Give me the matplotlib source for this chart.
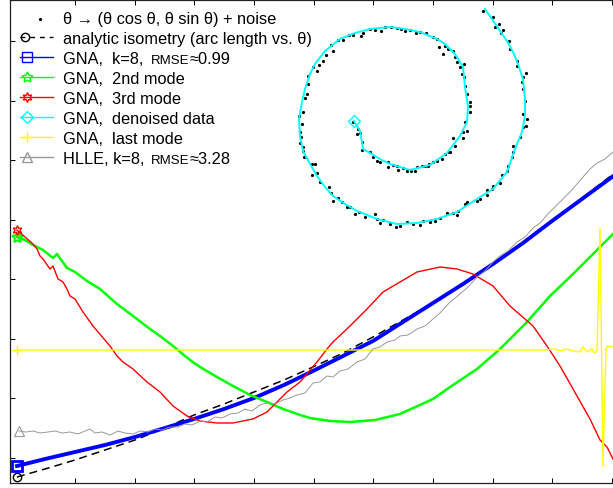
import matplotlib.pyplot as plt
import numpy as np

plt.rcParams["font.family"] = ["Liberation Sans", "DejaVu Sans"]

# noisy samples of the spiral (embedding plane, arbitrary units)
noisy_x = [468, 478, 480, 484, 488, 486, 494, 495, 502, 502, 511, 508,
           293, 298, 302, 304, 308, 311, 316, 318, 323, 328, 334, 338, 346, 348,
           355, 360, 366, 370, 376, 382, 386, 390, 395, 401, 405, 411, 418, 422,
           424, 428, 430, 433, 438, 440, 442, 445, 449, 447, 449,
           293, 292, 290, 288, 284, 287, 285, 286, 285, 288,
           338, 343, 345, 342, 347, 347, 355,
           450, 452, 455, 455, 455, 450, 452, 448, 438, 448, 440, 435,
           507, 508, 510, 508, 512, 511, 508, 505, 498,
           288, 289, 297, 300, 297, 302, 305, 314, 316, 318, 323, 327, 332, 335,
           340, 344, 350, 360, 362, 365, 368, 375, 381, 385, 392, 398, 405, 408,
           415, 420, 425, 432, 438, 442, 443, 450, 452, 462, 465, 472, 472, 477,
           478, 485, 487, 492, 493, 497, 498,
           358, 362, 365, 373, 373, 378, 382, 383, 388, 392, 396, 400, 402, 407,
           410, 413, 414, 418, 422, 427, 430, 434]
noisy_y = [447, 441, 431, 434, 428, 425, 417, 409, 397, 392, 385, 381,
           382, 391, 387, 393, 397, 403, 413, 407, 418, 418, 423, 423, 422, 425,
           429, 428, 427, 431, 431, 430, 429, 427, 428, 425, 426, 425, 421, 419,
           411, 404, 412, 409, 407, 401, 396, 391, 394, 384, 381,
           374, 364, 360, 346, 342, 334, 326, 321, 315, 311,
           336, 329, 325, 324, 316, 308, 306,
           372, 364, 356, 352, 346, 336, 327, 326, 320, 320, 312, 306,
           376, 369, 357, 344, 339, 332, 331, 321, 312,
           307, 301, 294, 294, 283, 285, 276, 271, 265, 257, 260, 256, 251, 251,
           244, 246, 241, 244, 239, 235, 238, 234, 231, 232, 236, 234, 233, 237,
           236, 237, 240, 245, 245, 243, 247, 254, 256, 257, 259, 263, 268, 269,
           272, 275, 283, 287, 292, 301, 306,
           301, 297, 296, 296, 291, 293, 292, 288, 290, 287, 287, 287, 291, 292,
           292, 292, 294, 296, 297, 299, 304, 306]

# GNA denoised spiral
den_x = [339, 345, 347, 348, 355, 365, 375, 395, 415, 432, 445, 452, 453, 450,
         448, 440, 430, 422, 405, 390, 375, 355, 340, 325, 310, 300, 295, 290,
         287, 284, 285, 288, 295, 302, 310, 318, 330, 342, 362, 382, 402, 422,
         442, 462, 478, 492, 500, 507, 510, 510, 508, 503, 498, 492, 485, 477, 470]
den_y = [337, 327, 316, 309, 305, 299, 294, 288, 293, 305, 322, 336, 352, 371,
         391, 404, 414, 419, 426, 429, 431, 429, 425, 419, 407, 394, 384, 369,
         356, 339, 322, 307, 294, 282, 271, 262, 254, 247, 239, 234, 235, 239,
         246, 259, 269, 286, 309, 326, 342, 359, 379, 394, 406, 417, 427, 439, 449]

# analytic isometry (arc length vs theta)
iso_idx = [2, 30, 60, 90, 120, 150, 179, 209, 239, 269, 298, 328, 358, 388,
           418, 448, 478, 508, 537, 567, 597, 610]
iso_val = [-19, -11, -2, 8, 18, 30, 43, 54, 66, 78, 91, 105, 121, 138,
           155, 174, 194, 215, 237, 260, 283, 293]

# GNA, k=8
gna_idx = [2, 30, 60, 90, 120, 150, 179, 209, 239, 269, 298, 328, 358, 388,
           418, 448, 478, 508, 537, 567, 597, 610]
gna_val = [-8, -1, 6, 13, 21, 30, 39, 49, 60, 73, 87, 102, 117, 136,
           155, 174, 194, 215, 237, 259, 281, 291]

# GNA 2nd mode
mode2_idx = [2, 10, 18, 28, 33, 38, 42, 47, 52, 60, 72, 85, 102, 118, 135,
             145, 158, 170, 179, 190, 202, 218, 235, 252, 268, 285, 295, 315,
             335, 360, 385, 418, 435, 462, 485, 512, 535, 558, 575, 585, 598, 610]
mode2_val = [221, 218, 213, 208, 204, 200, 204, 197, 190, 186, 177, 169, 154,
             142, 129, 122, 112, 102, 95, 88, 81, 72, 63, 56, 49, 43, 40, 37,
             36, 38, 44, 59, 71, 89, 109, 136, 162, 184, 201, 211, 224, 237]

# GNA 3rd mode
mode3_idx = [2, 10, 18, 22, 25, 28, 35, 38, 43, 48, 52, 55, 60, 68, 78, 95,
             102, 108, 118, 132, 145, 158, 172, 185, 202, 218, 238, 252, 272,
             285, 302, 312, 318, 335, 352, 368, 385, 402, 425, 442, 458, 478,
             495, 518, 532, 545, 562, 575, 585, 592, 598, 610]
mode3_val = [228, 221, 214, 209, 202, 199, 189, 192, 179, 176, 169, 162, 159,
             146, 132, 112, 102, 96, 89, 76, 66, 52, 42, 37, 35, 35, 39, 46,
             66, 76, 96, 109, 116, 132, 149, 166, 176, 186, 191, 189, 184, 172,
             152, 132, 112, 92, 62, 39, 18, 11, -1, -16]

# GNA last mode
last_idx = [2, 515, 530, 540, 545, 552, 558, 565, 568, 572, 577, 579, 582,
            585, 588, 591, 593, 598, 610]
last_val = [108, 108, 108, 109, 107, 109, 107, 106, 111, 106, 109, 105, 107,
            230, -8, 109, 112, 111, 111]

# HLLE, k=8
hlle_idx = [4, 11, 18, 25, 33, 40, 47, 55, 63, 70, 75, 80, 87, 95, 103, 110,
            118, 125, 133, 140, 147, 155, 163, 170, 177, 185, 192, 200, 207,
            215, 223, 230, 237, 245, 252, 260, 268, 275, 282, 290, 298, 305,
            312, 318, 325, 333, 342, 350, 358, 365, 372, 380, 385, 393, 402,
            410, 418, 425, 435, 445, 453, 462, 470, 478, 485, 493, 502, 510,
            518, 525, 532, 540, 547, 555, 562, 568, 575, 582, 590, 598, 610]
hlle_val = [27, 26, 27, 25, 26, 27, 25, 26, 24, 27, 29, 25, 26, 23, 27, 25,
            24, 27, 26, 29, 28, 31, 31, 34, 33, 37, 36, 41, 40, 44, 45, 49,
            47, 53, 55, 54, 58, 60, 63, 65, 75, 76, 82, 81, 87, 89, 96, 99,
            109, 111, 116, 118, 122, 123, 129, 132, 139, 145, 156, 164, 171,
            181, 187, 196, 202, 207, 216, 221, 230, 235, 243, 251, 258, 266,
            274, 281, 289, 295, 299, 306, 314]

fig = plt.figure(figsize=(6.13, 4.89), dpi=100)
ax = fig.add_axes([10 / 613, 5 / 489, 615 / 613, 483 / 489])

ax.plot(noisy_x, noisy_y, "o", color="black", ms=2.3, mew=0, zorder=2)
ax.plot(iso_idx, iso_val, color="black", lw=1.1, dashes=(5.2, 3.3), zorder=3)
ax.plot(iso_idx[0], iso_val[0], "o", mfc="none", mec="black", ms=6, mew=1, zorder=3)
ax.plot(gna_idx, gna_val, color="blue", lw=2.8, zorder=4)
ax.plot(gna_idx[0], gna_val[0], "s", mfc="none", mec="blue", ms=7, mew=2, zorder=4)
ax.plot(mode2_idx, mode2_val, color="#00ff00", lw=1.8, zorder=5)
ax.plot(mode2_idx[0], mode2_val[0], marker=(5, 1, 0), mfc="none", mec="#00ff00",
        ms=8, mew=1.5, zorder=5)
ax.plot(mode3_idx, mode3_val, color="red", lw=1.0, zorder=6)
ax.plot(mode3_idx[0], mode3_val[0], marker=(6, 1, 0), mfc="none", mec="red",
        ms=7, mew=1, zorder=6)
ax.plot(den_x, den_y, color="cyan", lw=1.4, zorder=7)
ax.plot(den_x[0], den_y[0], "D", mfc="none", mec="cyan", ms=6, mew=1, zorder=7)
ax.plot(last_idx, last_val, color="yellow", lw=1.0, zorder=8)
ax.plot(last_idx[0], last_val[0], "+", color="yellow", ms=7, mew=1, zorder=8)
ax.plot(hlle_idx, hlle_val, color="#999999", lw=0.7, zorder=9)
ax.plot(hlle_idx[0], hlle_val[0], "^", mfc="none", mec="#999999", ms=7, mew=0.8, zorder=9)

ax.set_xlim(-5, 610)
ax.set_ylim(-25, 458)
ax.set_xticks(np.linspace(60, 597, 10))
ax.set_yticks(np.linspace(0, 417, 8))
ax.tick_params(direction="in", length=3.6, width=0.7, top=True, right=True,
               labelbottom=False, labelleft=False)
for s in ax.spines.values():
    s.set_linewidth(0.9)
    s.set_color("#222222")

# legend, drawn by hand so the markers sit at the left of each handle
rows = [
    dict(color="black", ls="none", marker="o", ms=2.3, mx=25),
    dict(color="black", ls="--", marker="o", ms=6, mx=10),
    dict(color="blue", ls="-", marker="s", ms=7, mx=12),
    dict(color="#00ff00", ls="-", marker=(5, 1, 0), ms=8, mx=12),
    dict(color="red", ls="-", marker=(6, 1, 0), ms=7, mx=12),
    dict(color="cyan", ls="-", marker="D", ms=6, mx=12),
    dict(color="yellow", ls="-", marker="+", ms=7, mx=12),
    dict(color="#999999", ls="-", marker="^", ms=7, mx=12),
]
labels = [
    ["θ → (θ cos θ, θ sin θ) + noise"],
    ["analytic isometry (arc length vs. θ)"],
    ["GNA,  k=8, ", "RMSE", "≈0.99"],
    ["GNA,  2nd mode"],
    ["GNA,  3rd mode"],
    ["GNA,  denoised data"],
    ["GNA,  last mode"],
    ["HLLE, k=8, ", "RMSE", "≈3.28"],
]
part_x = [48, 136, 175]
for i, (r, lab) in enumerate(zip(rows, labels)):
    ly = 441 - 20 * i
    if r["ls"] != "none":
        kw = dict(dashes=(3.5, 3.5)) if r["ls"] == "--" else {}
        ax.plot([5, 38], [ly, ly], color=r["color"], lw=1.0, zorder=10, **kw)
    mfc = r["color"] if i == 0 else "none"
    ax.plot(r["mx"], ly if i else ly - 2, marker=r["marker"], ls="none",
            mfc=mfc, mec=r["color"], color=r["color"], ms=r["ms"],
            mew=1.0 if i else 0, zorder=10)
    for j, txt in enumerate(lab):
        ax.text(part_x[j], 435 - 20 * i, txt, fontsize=9.5 if txt == "RMSE" else 11.8,
                va="baseline", ha="left", zorder=11)

fig.savefig("out.png", dpi=100)
